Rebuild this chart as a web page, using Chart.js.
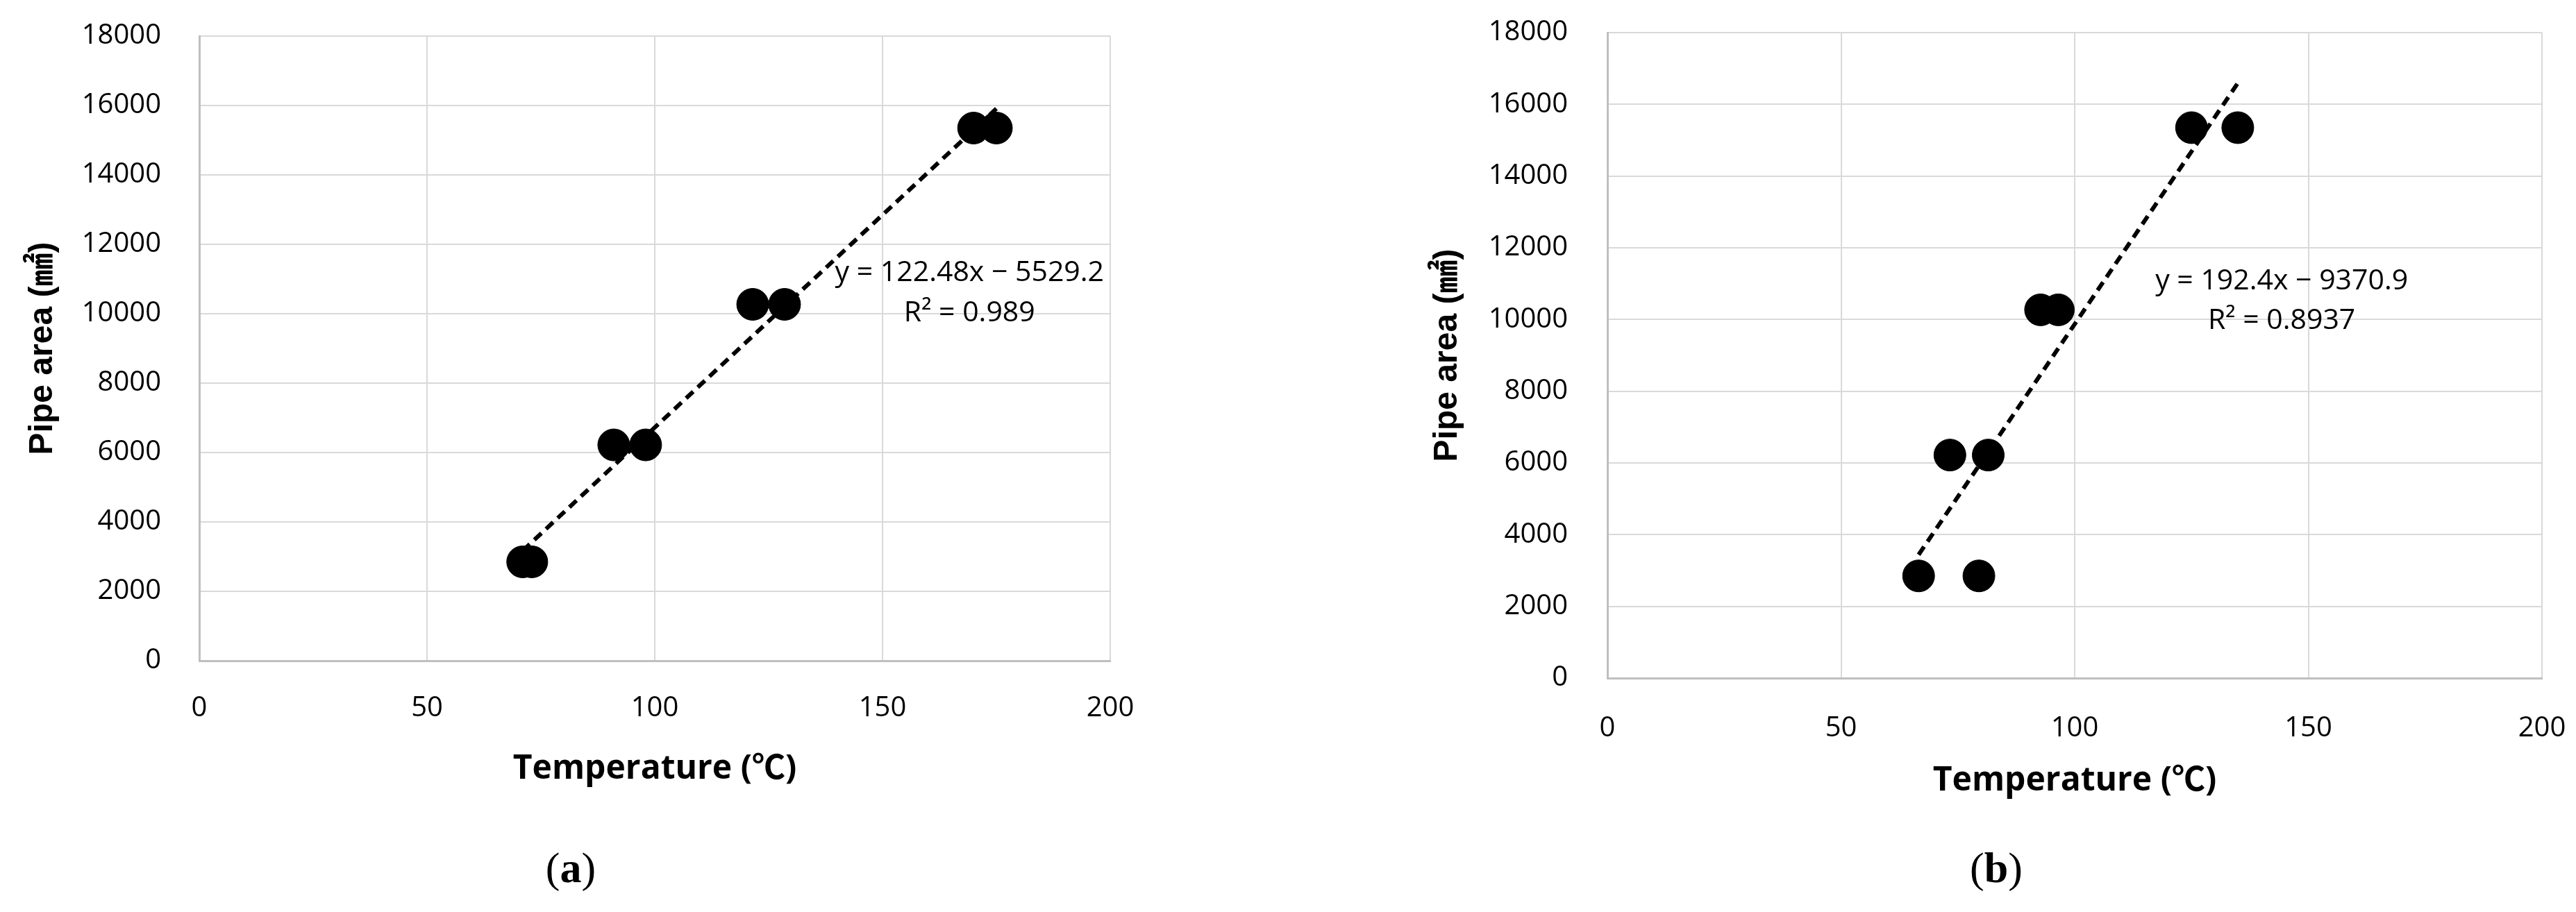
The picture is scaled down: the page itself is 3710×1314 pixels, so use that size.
<!DOCTYPE html>
<html>
<head>
<meta charset="utf-8">
<script src="https://cdn.jsdelivr.net/npm/chart.js@4/dist/chart.umd.min.js"></script>
<style>
  html, body { margin: 0; padding: 0; background: #fff; }
  body { width: 3710px; height: 1314px; position: relative; overflow: hidden; }
  .panel { position: absolute; top: 0; height: 1314px; }
  .caption { position: absolute; font-family: "Liberation Serif", serif; font-size: 62px; transform: translate(-50%, -50%); line-height: 1; }
</style>
</head>
<body>
<div class="panel" style="left:0; width:1700px;"><canvas id="chart-a"></canvas></div>
<div class="panel" style="left:1900px; width:1810px;"><canvas id="chart-b"></canvas></div>
<div class="caption" style="left:822px; top:1250px;">(<b>a</b>)</div>
<div class="caption" style="left:2875px; top:1250px;">(<b>b</b>)</div>
<script>
// panel (a)
const tempA = [71, 73, 91, 98, 121.5, 128.5, 170, 175];
const areaA = [2850, 2850, 6220, 6220, 10270, 10270, 15350, 15350];
const trendTempA = [71, 175];
const trendAreaA = [3170, 15910];
const equationA = ['y = 122.48x \u2212 5529.2', 'R\u00b2 = 0.989'];

// panel (b)
const tempB = [66.6, 79.5, 73.3, 81.5, 92.7, 96.5, 125, 134.9];
const areaB = [2850, 2850, 6220, 6220, 10270, 10270, 15350, 15350];
const trendTempB = [66.6, 134.9];
const trendAreaB = [3440, 16590];
const equationB = ['y = 192.4x \u2212 9370.9', 'R\u00b2 = 0.8937'];

const xTitle = 'Temperature (\u2103)';
const yTitle = 'Pipe area (\u339f)';

// draws the trendline equation at a spot given in data units
const equationLabel = {
  id: 'equationLabel',
  afterDatasetsDraw(chart, args, opts) {
    const ctx = chart.ctx;
    const x = chart.scales.x.getPixelForValue(opts.x);
    ctx.save();
    ctx.font = '41px "Open Sans"';
    ctx.fillStyle = '#000';
    ctx.textAlign = 'center';
    ctx.textBaseline = 'middle';
    opts.lines.forEach((line, i) => {
      ctx.fillText(line, x, chart.scales.y.getPixelForValue(opts.y[i]));
    });
    ctx.restore();
  }
};

function toPoints(xs, ys) {
  return xs.map((v, i) => ({x: v, y: ys[i]}));
}

function makeConfig(p) {
  return {
    type: 'scatter',
    data: {
      datasets: [{
        data: toPoints(p.temps, p.areas),
        backgroundColor: '#000',
        borderColor: '#000',
        borderWidth: 1,
        pointRadius: 23,
        order: 1
      }, {
        type: 'line',
        data: toPoints(p.trendTemps, p.trendAreas),
        borderColor: '#000',
        borderWidth: 6,
        borderDash: [14, 9],
        pointRadius: 0,
        fill: false,
        order: 0
      }]
    },
    options: {
      responsive: true,
      maintainAspectRatio: false,
      animation: false,
      events: [],
      layout: {
        padding: p.padding
      },
      plugins: {
        legend: { display: false },
        tooltip: { enabled: false },
        equationLabel: p.label
      },
      scales: {
        x: {
          type: 'linear',
          min: 0,
          max: 200,
          afterFit: (scale) => { scale.height = p.xHeight; },
          ticks: {
            stepSize: 50,
            padding: 0,
            color: '#000',
            callback: (v) => String(v),
            font: { family: '"Open Sans"', size: 40 }
          },
          // tick marks kept invisible, their length only spaces the labels
          grid: { color: '#d9d9d9', lineWidth: 2, tickLength: p.xTickGap, tickColor: 'rgba(0,0,0,0)' },
          border: { color: '#bfbfbf', width: 3 },
          title: {
            display: true,
            text: xTitle,
            color: '#000',
            padding: 0,
            font: { family: '"Open Sans", "Noto Sans CJK KR"', size: 48, weight: 'bold' }
          }
        },
        y: {
          min: 0,
          max: 18000,
          afterFit: (scale) => { scale.width = p.yWidth; },
          ticks: {
            stepSize: 2000,
            padding: 0,
            color: '#000',
            callback: (v) => String(v),
            font: { family: '"Open Sans"', size: 40 }
          },
          grid: { color: '#d9d9d9', lineWidth: 2, tickLength: p.yTickGap, tickColor: 'rgba(0,0,0,0)' },
          border: { color: '#bfbfbf', width: 3 },
          title: {
            display: true,
            text: yTitle,
            color: '#000',
            padding: 0,
            font: { family: '"Liberation Sans", "Noto Sans CJK KR"', size: 48, weight: 'bold' }
          }
        }
      }
    },
    plugins: [equationLabel]
  };
}

new Chart(document.getElementById('chart-a'), makeConfig({
  temps: tempA, areas: areaA,
  trendTemps: trendTempA, trendAreas: trendAreaA,
  padding: { left: 33, top: 52, right: 101, bottom: 177 },
  xHeight: 185, yWidth: 254, xTickGap: 45, yTickGap: 55,
  label: { lines: equationA, x: 169.1, y: [11180, 10020] }
}));

new Chart(document.getElementById('chart-b'), makeConfig({
  temps: tempB, areas: areaB,
  trendTemps: trendTempB, trendAreas: trendAreaB,
  padding: { left: 156, top: 47, right: 49, bottom: 160 },
  xHeight: 177, yWidth: 259, xTickGap: 49, yTickGap: 57,
  label: { lines: equationB, x: 144.3, y: [11067, 9964] }
}));
</script>
</body>
</html>
